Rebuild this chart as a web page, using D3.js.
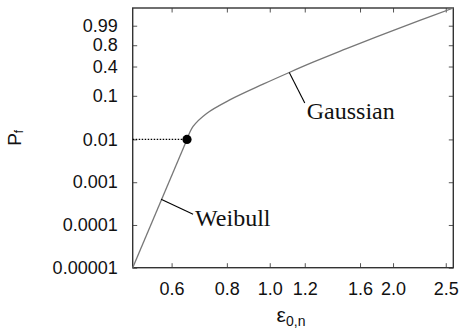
<!DOCTYPE html>
<meta charset="utf-8">
<style>
  body { margin: 0; background: #fff; }
  .tick text { font-family: "Liberation Sans", Arial, sans-serif; font-size: 18px; fill: #111; }
  .note { font-family: "Liberation Serif", "Times New Roman", serif; font-size: 24px; fill: #111; }
</style>
<svg width="461" height="332"></svg>
<script src="https://d3js.org/d3.v7.min.js"></script>
<script>

// x ticks (the "2.0" tick sits where the original plot put it)
var xTicks = [0.6, 0.8, 1.0, 1.2, 1.6, 1.9, 2.5];
var xTickLabels = ["0.6", "0.8", "1.0", "1.2", "1.6", "2.0", "2.5"];

var yTicks = [0.00001, 0.0001, 0.001, 0.01, 0.1, 0.4, 0.8, 0.99];
var yTickLabels = ["0.00001", "0.0001", "0.001", "0.01", "0.1", "0.4", "0.8", "0.99"];

// Weibull part (straight line on this paper)
var weibullEps = [0.49, 0.65];
var weibullP = [0.00001, 0.01];

// Gaussian part
var gaussEps = [0.65, 0.671, 0.72, 0.812, 0.966, 1.11, 1.253, 1.465, 1.743, 2.184, 2.6];
var gaussP = [0.01, 0.02, 0.04, 0.081, 0.179, 0.313, 0.475, 0.713, 0.919, 0.9978, 0.9999936];

// transition point
var pointEps = 0.65, pointP = 0.01;

// labels: anchor on the curve, then offset of the leader end and text
var notes = [
  {name: "Weibull", eps: 0.568, p: 0.0004, lx: 32, ly: 15, tx: 34, ty: 27},
  {name: "Gaussian", eps: 1.107, p: 0.31, lx: 15.5, ly: 30.5, tx: 17.5, ty: 47}
];

var margin = {top: 8, right: 7.7, bottom: 64.3, left: 132.7},
    W = 461, H = 332,
    width = W - margin.left - margin.right,
    height = H - margin.top - margin.bottom;

var svg = d3.select("svg"),
    g = svg.append("g").attr("transform", "translate(" + margin.left + "," + margin.top + ")");

// weibull probability paper: ln(-ln(1-P))
function wb(p) { return Math.log(-Math.log(1 - p)); }

var x = d3.scaleLog()
    .domain([0.49, 2.6])
    .range([0, width]);

var yT = d3.scaleLinear()
    .domain([wb(0.00001), wb(0.9999936)])
    .range([height, 0]);
function y(p) { return yT(wb(p)); }

var frameColor = "#333";

// axes
var xAxis = g.append("g")
    .attr("transform", "translate(0," + height + ")")
    .call(d3.axisBottom(x).tickValues(xTicks)
      .tickFormat(function(d, i) { return xTickLabels[i]; })
      .tickSizeInner(-4.5).tickSizeOuter(0).tickPadding(15));

var xTop = g.append("g")
    .call(d3.axisTop(x).tickValues(xTicks).tickFormat("")
      .tickSizeInner(-4.5).tickSizeOuter(0));

var yAxis = g.append("g")
    .call(d3.axisLeft(yT).tickValues(yTicks.map(wb))
      .tickFormat(function(d, i) { return yTickLabels[i]; })
      .tickSizeInner(-4.5).tickSizeOuter(0).tickPadding(15));

var yRight = g.append("g")
    .attr("transform", "translate(" + width + ",0)")
    .call(d3.axisRight(yT).tickValues(yTicks.map(wb)).tickFormat("")
      .tickSizeInner(-4.5).tickSizeOuter(0));

g.selectAll(".domain").remove();
g.selectAll(".tick line").attr("stroke", "#555").attr("stroke-width", 1);

// frame
g.append("rect")
    .attr("width", width)
    .attr("height", height)
    .attr("fill", "none")
    .attr("stroke", frameColor)
    .attr("stroke-width", 1.4);

// dotted line to the transition point
g.append("line")
    .attr("x1", 0)
    .attr("x2", x(pointEps))
    .attr("y1", y(pointP))
    .attr("y2", y(pointP))
    .attr("stroke", "#000")
    .attr("stroke-width", 1.2)
    .attr("stroke-dasharray", "1.5,1.5");

var line = d3.line()
    .x(function(d) { return x(d[0]); })
    .y(function(d) { return y(d[1]); });

g.append("path")
    .datum(d3.zip(weibullEps, weibullP))
    .attr("d", line)
    .attr("fill", "none")
    .attr("stroke", "#777")
    .attr("stroke-width", 1.3);

g.append("path")
    .datum(d3.zip(gaussEps, gaussP))
    .attr("d", line.curve(d3.curveCatmullRom.alpha(0.5)))
    .attr("fill", "none")
    .attr("stroke", "#777")
    .attr("stroke-width", 1.3);

g.append("circle")
    .attr("cx", x(pointEps))
    .attr("cy", y(pointP))
    .attr("r", 4.6)
    .attr("fill", "#000");

// curve labels
var note = g.selectAll(".noteg")
  .data(notes)
  .enter().append("g")
    .attr("transform", function(d) { return "translate(" + x(d.eps) + "," + y(d.p) + ")"; });

note.append("line")
    .attr("x2", function(d) { return d.lx; })
    .attr("y2", function(d) { return d.ly; })
    .attr("stroke", "#000")
    .attr("stroke-width", 1.1);

note.append("text")
    .attr("class", "note")
    .attr("x", function(d) { return d.tx; })
    .attr("y", function(d) { return d.ty; })
    .text(function(d) { return d.name; });

// axis titles
svg.append("text")
    .attr("x", margin.left + width / 2 - 2)
    .attr("y", 322)
    .attr("text-anchor", "middle")
    .attr("font-family", "Liberation Sans, Arial, sans-serif")
    .attr("font-size", 21)
    .attr("fill", "#111")
    .html('ε<tspan font-size="14" dy="4">0,n</tspan>');

svg.append("text")
    .attr("transform", "translate(21," + (margin.top + height / 2) + ")rotate(-90)")
    .attr("text-anchor", "middle")
    .attr("font-family", "Liberation Sans, Arial, sans-serif")
    .attr("font-size", 19)
    .attr("fill", "#111")
    .html('P<tspan font-size="12" dy="2">f</tspan>');

</script>
